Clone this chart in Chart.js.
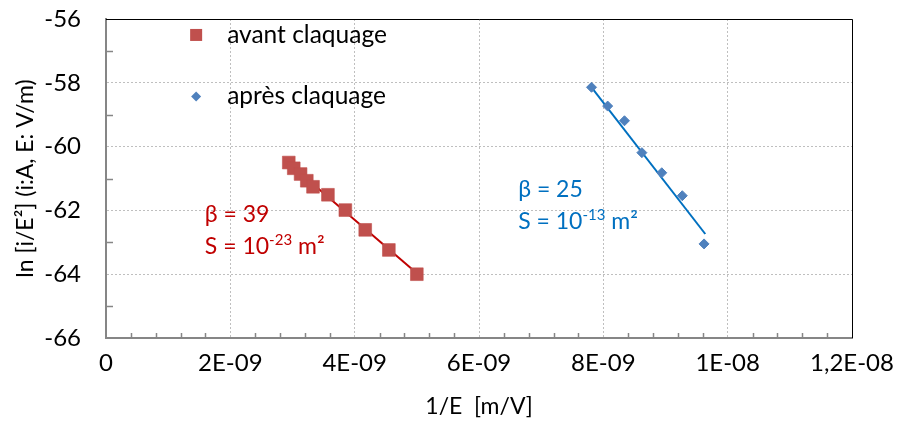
<!DOCTYPE html>
<html>
<head>
<meta charset="utf-8">
<script src="https://cdn.jsdelivr.net/npm/chart.js@4/dist/chart.umd.min.js"></script>
<style>
  html, body { margin: 0; padding: 0; background: #fff; }
  canvas { display: block; }
</style>
</head>
<body>
<canvas id="chart" width="897" height="423"></canvas>
<script>
// --- data ---
const avantX = [2.94e-9, 3.02e-9, 3.13e-9, 3.23e-9, 3.33e-9, 3.57e-9, 3.85e-9, 4.17e-9, 4.55e-9, 5.00e-9];
const avantY = [-60.50, -60.68, -60.86, -61.07, -61.26, -61.51, -61.99, -62.61, -63.24, -64.00];
const apresX = [7.81e-9, 8.07e-9, 8.34e-9, 8.62e-9, 8.94e-9, 9.27e-9, 9.62e-9];
const apresY = [-58.14, -58.73, -59.19, -60.19, -60.82, -61.54, -63.05];

// trend lines (end points, as drawn)
const trendAvantX = [2.94e-9, 5.00e-9];
const trendAvantY = [-60.52, -63.97];
const trendApresX = [7.81e-9, 9.64e-9];
const trendApresY = [-58.14, -62.74];

const seriesNames = ["avant claquage", "après claquage"];
const xTickValues = [0, 2e-9, 4e-9, 6e-9, 8e-9, 1e-8, 1.2e-8];
const xTickLabels = ["0", "2E-09", "4E-09", "6E-09", "8E-09", "1E-08", "1,2E-08"];
const yTickValues = [-66, -64, -62, -60, -58, -56];
const yTickLabels = ["-66", "-64", "-62", "-60", "-58", "-56"];
const xTitle = "1/E  [m/V]";
const yTitle = "ln [i/E²] (i:A, E: V/m)";

// fit annotations: [beta, surface exponent]
const betaAvant = "39", expAvant = "-23";
const betaApres = "25", expApres = "-13";

// --- styling ---
const FONT = "Lato, 'Open Sans', sans-serif";
const RED_MARK = "#C0504D", RED_LINE = "#C00000";
const BLUE_MARK = "#4F81BD", BLUE_LINE = "#0070C0";
const AXIS_GRAY = "#868686";

const toPts = (xs, ys) => xs.map((x, i) => ({ x, y: ys[i] }));

// draws frame, minor ticks, legend and the fit annotations
const decor = {
  id: "decor",
  beforeDatasetsDraw(chart) {
    const { ctx, chartArea: a, scales: { x, y } } = chart;
    ctx.save();
    // top / right frame
    ctx.strokeStyle = "#000";
    ctx.lineWidth = 1;
    ctx.beginPath();
    ctx.moveTo(a.left, a.top + 0.5);
    ctx.lineTo(a.right + 0.5, a.top + 0.5);
    ctx.lineTo(a.right + 0.5, a.bottom);
    ctx.stroke();
    // minor ticks (inward)
    ctx.strokeStyle = AXIS_GRAY;
    ctx.lineWidth = 1.5;
    ctx.beginPath();
    for (let i = 1; i < 30; i++) {
      if (i % 5 === 0) continue;
      const px = Math.round(x.getPixelForValue(i * 0.4e-9)) + 0.5;
      ctx.moveTo(px, a.bottom);
      ctx.lineTo(px, a.bottom - 5);
    }
    for (let v = -65; v < -56; v += 2) {
      const py = Math.round(y.getPixelForValue(v)) + 0.5;
      ctx.moveTo(a.left, py);
      ctx.lineTo(a.left + 7, py);
    }
    ctx.stroke();
    ctx.restore();
  },
  afterDatasetsDraw(chart) {
    const { ctx, scales: { x, y } } = chart;
    ctx.save();
    ctx.textBaseline = "middle";
    ctx.textAlign = "left";

    // legend
    const lx = x.getPixelForValue(1.45e-9);
    const ly1 = y.getPixelForValue(-56.5);
    const ly2 = y.getPixelForValue(-58.43);
    ctx.fillStyle = RED_MARK;
    ctx.fillRect(lx - 6, ly1 - 6, 12, 12);
    ctx.fillStyle = BLUE_MARK;
    ctx.beginPath();
    ctx.moveTo(lx - 5, ly2);
    ctx.lineTo(lx, ly2 - 5);
    ctx.lineTo(lx + 5, ly2);
    ctx.lineTo(lx, ly2 + 5);
    ctx.closePath();
    ctx.fill();
    ctx.fillStyle = "#000";
    ctx.font = "24.5px " + FONT;
    ctx.fillText(seriesNames[0], lx + 31, ly1);
    ctx.fillText(seriesNames[1], lx + 31, ly2);

    // annotations
    const note = (px, py, color, beta, exp) => {
      ctx.fillStyle = color;
      ctx.font = "23px " + FONT;
      ctx.fillText("β = " + beta, px, py);
      const py2 = py + 32;
      const s1 = "S = 10";
      ctx.fillText(s1, px, py2);
      let cx = px + ctx.measureText(s1).width;
      ctx.font = "15px " + FONT;
      ctx.fillText(exp, cx, py2 - 7);
      cx += ctx.measureText(exp).width;
      ctx.font = "23px " + FONT;
      ctx.fillText(" m²", cx, py2);
    };
    note(x.getPixelForValue(1.59e-9), y.getPixelForValue(-62.14), RED_LINE, betaAvant, expAvant);
    note(x.getPixelForValue(6.63e-9), y.getPixelForValue(-61.36), BLUE_LINE, betaApres, expApres);
    ctx.restore();
  }
};

new Chart(document.getElementById("chart"), {
  type: "scatter",
  data: {
    datasets: [
      {
        label: "trend avant",
        data: toPts(trendAvantX, trendAvantY),
        showLine: true,
        borderColor: RED_LINE,
        borderWidth: 2,
        pointRadius: 0
      },
      {
        label: "trend apres",
        data: toPts(trendApresX, trendApresY),
        showLine: true,
        borderColor: BLUE_LINE,
        borderWidth: 2,
        pointRadius: 0
      },
      {
        label: seriesNames[0],
        data: toPts(avantX, avantY),
        pointStyle: "rect",
        pointRadius: 9,
        backgroundColor: RED_MARK,
        borderColor: "rgba(192,80,77,0.6)",
        borderWidth: 1,
        order: -1
      },
      {
        label: seriesNames[1],
        data: toPts(apresX, apresY),
        pointStyle: "rectRot",
        pointRadius: 5,
        backgroundColor: BLUE_MARK,
        borderColor: BLUE_MARK,
        borderWidth: 1,
        order: -1
      }
    ]
  },
  options: {
    responsive: false,
    animation: false,
    layout: { padding: { left: 0, right: 45, top: 19, bottom: 0 } },
    plugins: { legend: { display: false }, tooltip: { enabled: false } },
    scales: {
      x: {
        type: "linear",
        min: 0,
        max: 1.2e-8,
        afterBuildTicks: s => { s.ticks = xTickValues.map(v => ({ value: v })); },
        afterFit: s => { s.height = 85; },
        ticks: {
          callback: (v, i) => xTickLabels[i],
          color: "#000",
          font: { family: FONT, size: 24 },
          padding: 0,
          maxRotation: 0,
          autoSkip: false
        },
        grid: { color: "#BFBFBF", lineWidth: 1, drawTicks: true, tickLength: 11, tickColor: "rgba(0,0,0,0)" },
        border: { color: AXIS_GRAY, width: 2, dash: [2, 2] },
        title: {
          display: true,
          text: xTitle,
          color: "#000",
          font: { family: FONT, size: 23 },
          padding: { top: 0, bottom: 3 }
        }
      },
      y: {
        type: "linear",
        min: -66,
        max: -56,
        afterBuildTicks: s => { s.ticks = yTickValues.map(v => ({ value: v })); },
        afterFit: s => { s.width = 106; },
        ticks: {
          callback: (v, i) => yTickLabels[i],
          color: "#000",
          font: { family: FONT, size: 24 },
          padding: 2,
          autoSkip: false
        },
        grid: { color: "#BFBFBF", lineWidth: 1, drawTicks: true, tickLength: 23, tickColor: "rgba(0,0,0,0)" },
        border: { color: AXIS_GRAY, width: 2, dash: [2, 2] },
        title: {
          display: true,
          text: yTitle,
          color: "#000",
          font: { family: FONT, size: 23 },
          padding: { top: 12, bottom: 0 }
        }
      }
    }
  },
  plugins: [decor]
});
</script>
</body>
</html>
